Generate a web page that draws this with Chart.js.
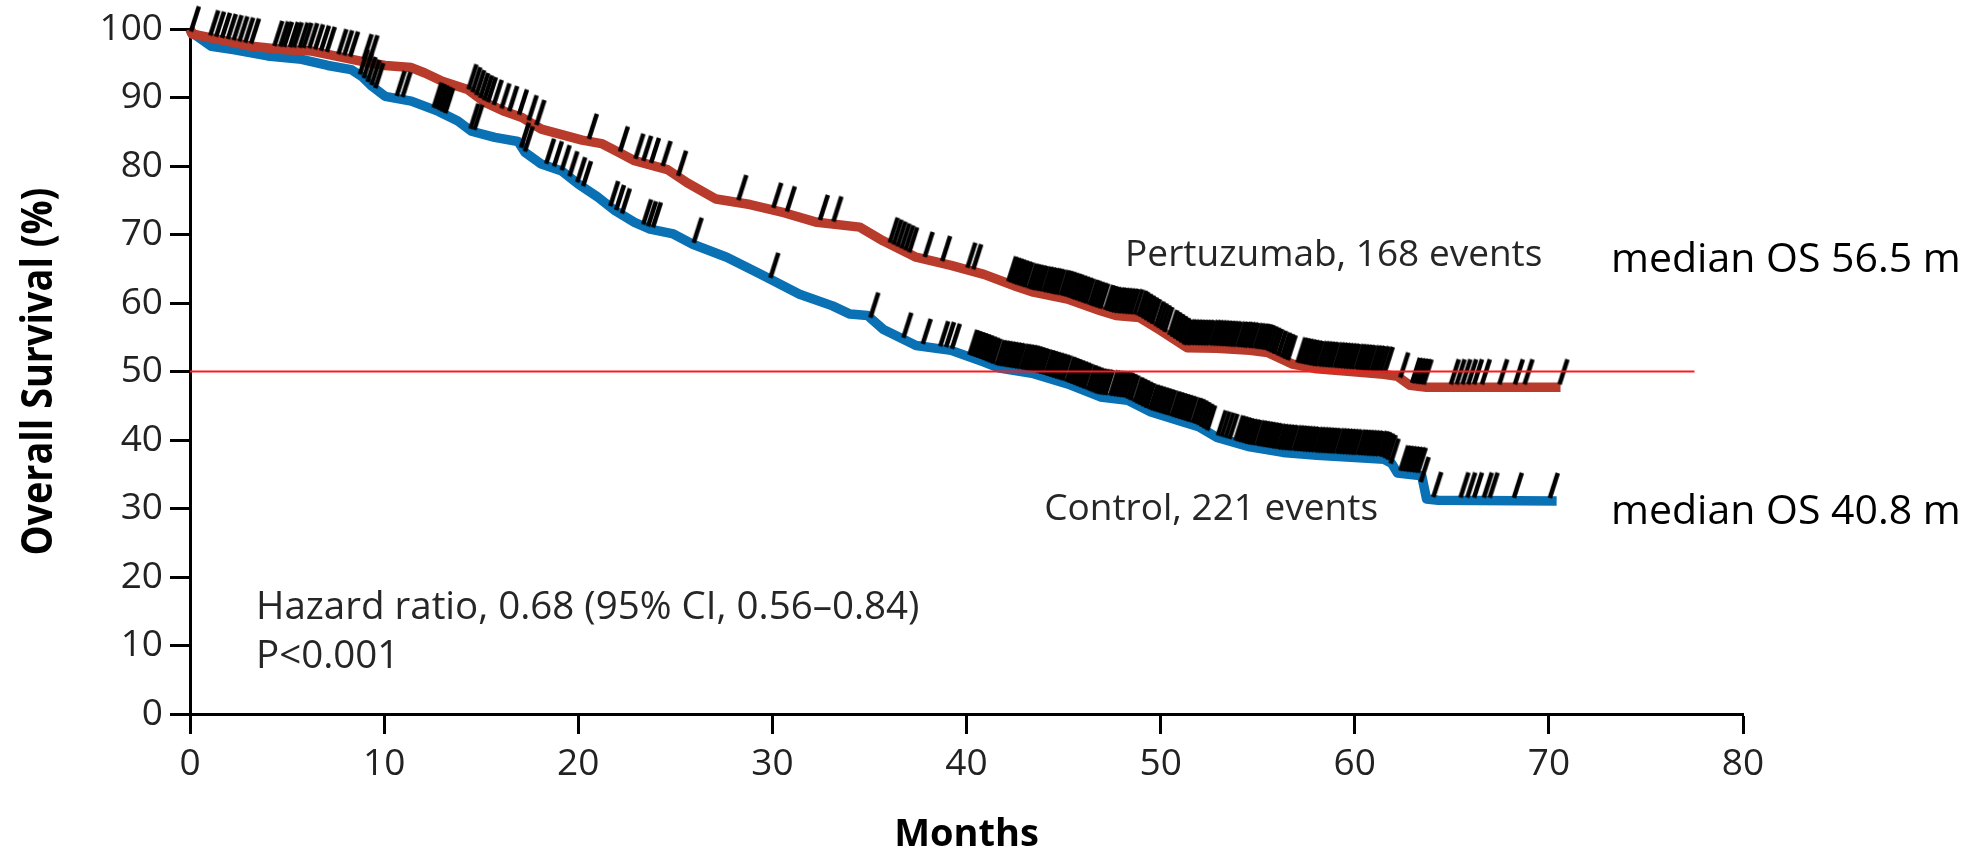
<!DOCTYPE html>
<html>
<head>
<meta charset="utf-8">
<script src="https://cdn.jsdelivr.net/npm/chart.js@4.4.1/dist/chart.umd.min.js"></script>
<style>
html,body{margin:0;padding:0;background:#ffffff;}
canvas{display:block;}
</style>
</head>
<body>
<canvas id="km" width="1985" height="857"></canvas>
<script>
// ---------------- data ----------------
const xTickValues = [0, 10, 20, 30, 40, 50, 60, 70, 80];
const yTickValues = [0, 10, 20, 30, 40, 50, 60, 70, 80, 90, 100];

const pertuzumabMonths = [0, 0.1, 1.46, 3.18, 4.9, 6.27, 7.47, 8.85, 10.05, 11.4, 12.1, 13.0, 14.3, 15.2, 16.2, 17.1, 18.1, 19.15, 20.2, 21.2, 22.1, 22.9, 24.6, 25.6, 27.1, 28.85, 30.6, 32.3, 34.5, 35.7, 37.4, 39.2, 40.9, 42.6, 43.45, 45.2, 46.9, 47.7, 48.9, 50.0, 51.35, 52.9, 54.6, 55.5, 56.8, 58.05, 59.8, 61.5, 62.2, 62.85, 63.7, 70.6];
const pertuzumabSurvival = [100, 99.3, 98.5, 97.5, 97.0, 96.8, 96.1, 95.3, 94.7, 94.4, 93.6, 92.4, 91.2, 89.3, 88.0, 87.1, 85.4, 84.6, 83.8, 83.3, 82.0, 80.8, 79.5, 77.6, 75.2, 74.4, 73.2, 71.8, 71.1, 69.1, 66.7, 65.5, 64.2, 62.4, 61.6, 60.6, 58.9, 58.2, 57.9, 56.0, 53.5, 53.4, 53.1, 52.8, 51.1, 50.4, 50.0, 49.6, 49.3, 48.0, 47.7, 47.7];

const controlMonths = [0, 0.1, 1.1, 2.3, 4.0, 5.75, 7.1, 8.3, 8.85, 9.36, 10.05, 11.4, 12.8, 13.8, 14.5, 15.7, 16.9, 17.26, 18.1, 19.15, 20.0, 21.0, 21.9, 22.9, 23.7, 24.9, 25.9, 27.65, 29.4, 31.4, 33.1, 34.0, 34.9, 35.7, 37.4, 39.2, 40.9, 41.7, 43.45, 45.2, 46.9, 48.3, 49.5, 51.2, 52.0, 52.9, 54.6, 56.3, 58.05, 59.8, 61.5, 61.9, 62.2, 63.45, 63.7, 64.3, 70.4];
const controlSurvival = [100, 99.5, 97.5, 97.0, 96.1, 95.6, 94.7, 94.1, 93.1, 91.7, 90.2, 89.5, 88.0, 86.6, 85.1, 84.2, 83.6, 82.0, 80.3, 79.3, 77.4, 75.5, 73.5, 71.8, 70.8, 70.1, 68.6, 66.7, 64.2, 61.3, 59.6, 58.4, 58.2, 56.2, 53.8, 53.1, 51.4, 50.5, 49.7, 48.2, 46.3, 45.8, 44.1, 42.6, 41.9, 40.4, 39.0, 38.2, 37.8, 37.5, 37.2, 36.6, 35.2, 34.8, 31.4, 31.2, 31.1];

const pertuzumabCensored = [0.2, 1.2, 1.5, 1.8, 2.1, 2.4, 2.7, 3.0, 3.3, 4.5, 4.8, 5.0, 5.3, 5.5, 5.8, 6.0, 6.3, 6.6, 6.9, 7.2, 7.8, 8.1, 8.4, 9.1, 9.4,
  14.5, 14.7, 14.9, 15.1, 15.3, 15.5, 15.8, 16.2, 16.6, 17.1, 17.6, 18.0, 20.7, 22.3, 23.1, 23.5, 23.9, 24.5, 25.3, 28.4, 30.2, 30.9, 32.6, 33.3,
  36.2, 36.4, 36.6, 36.8, 37.0, 37.2, 38.0, 38.9, 40.2, 40.5,
  42.3, 42.45, 42.6, 42.7, 42.85, 43.0, 43.15, 43.35, 43.5, 43.6, 43.75, 43.9, 44.1, 44.25, 44.4, 44.55, 44.65, 44.8, 45.0, 45.15, 45.3, 45.45, 45.6, 45.7, 45.85, 46.0, 46.15, 46.3, 46.5, 46.6, 46.75, 46.9, 47.05, 47.3, 47.45, 47.6, 47.75, 47.9, 48.0, 48.15, 48.3, 48.45, 48.6, 48.8, 49.0, 49.1, 49.25, 49.4, 49.55, 49.7, 49.9, 50.05, 50.2, 50.35, 50.6, 50.75, 50.9, 51.05, 51.2, 51.35, 51.5, 51.6, 51.75, 51.9, 52.05, 52.2, 52.35, 52.5, 52.7, 52.85, 53.0, 53.15, 53.3, 53.45, 53.6, 53.75, 53.9, 54.1, 54.25, 54.4, 54.5, 54.65, 54.8, 55.0, 55.15, 55.3, 55.4, 55.55, 55.7, 55.85, 56.0, 56.2, 56.4, 56.55, 56.7, 57.2, 57.35, 57.5, 57.65, 57.8, 57.95, 58.1, 58.3, 58.45, 58.6, 58.75, 58.9, 59.1, 59.25, 59.4, 59.55, 59.7, 59.85, 60.0, 60.2, 60.35, 60.5, 60.65, 60.8, 61.0, 61.15, 61.3, 61.5, 61.7,
  62.5, 63.1, 63.25, 63.4, 63.55, 63.7, 65.1, 65.4, 65.7, 66.0, 66.3, 66.7, 67.6, 68.4, 68.9, 70.7];

const controlCensored = [8.9, 9.1, 9.3, 9.5, 9.7, 10.8, 11.1, 12.7, 12.85, 13.0, 13.15, 13.3, 14.6, 14.8, 17.2, 17.4, 18.5, 18.9, 19.3, 19.7, 20.1, 20.4, 21.8, 22.1, 22.4, 23.5, 23.75, 24.0, 26.1, 30.05, 35.2, 36.9, 37.9, 38.8, 39.1, 39.4,
  40.3, 40.45, 40.6, 40.75, 40.9, 41.05, 41.2, 41.35, 41.5, 41.7, 41.85, 42.0, 42.15, 42.3, 42.45, 42.6, 42.75, 42.95, 43.1, 43.25, 43.4, 43.55, 43.7, 43.85, 44.0, 44.2, 44.35, 44.5, 44.65, 44.8, 44.95, 45.1, 45.3, 45.45, 45.6, 45.75, 45.9, 46.05, 46.2, 46.4, 46.55, 46.7, 46.85, 47.0, 47.15, 47.3, 47.55, 47.7, 47.85, 48.0, 48.15, 48.3, 48.45, 48.6, 48.8, 48.95, 49.1, 49.25, 49.4, 49.6, 49.75, 49.9, 50.05, 50.2, 50.35, 50.5, 50.7, 50.85, 51.0, 51.15, 51.3, 51.45, 51.6, 51.8, 51.95, 52.1, 52.25, 52.4, 52.55,
  53.1, 53.3, 53.5, 53.7, 54.0, 54.15, 54.3, 54.45, 54.6, 54.75, 54.9, 55.1, 55.25, 55.4, 55.55, 55.7, 55.85, 56.0, 56.2, 56.35, 56.5, 56.65, 56.8, 57.0, 57.15, 57.3, 57.45, 57.6, 57.75, 57.9, 58.1, 58.25, 58.4, 58.55, 58.7, 58.85, 59.0, 59.2, 59.35, 59.5, 59.65, 59.8, 59.95, 60.1, 60.3, 60.45, 60.6, 60.75, 60.9, 61.05, 61.2, 61.4, 61.55, 61.7, 61.85, 62.0,
  62.5, 62.65, 62.8, 62.95, 63.1, 63.25, 63.4, 63.55, 64.2, 65.6, 65.95, 66.3, 66.8, 67.1, 68.35, 70.2];

const referenceLineMonths = [0, 77.5];
const referenceLineSurvival = [50, 50];

// text annotations (anchored in data units: month, survival %; left edge / baseline)
const noteTexts = ['Pertuzumab, 168 events', 'Control, 221 events', 'Hazard ratio, 0.68 (95% CI, 0.56\u20130.84)', 'P<0.001'];
const noteMonths = [48.17, 44.0, 3.4, 3.4];
const noteSurvival = [65.45, 28.3, 13.8, 6.7];
const noteSizes = [37, 37, 38.5, 38.5];

const medianTexts = ['median OS 56.5 m', 'median OS 40.8 m'];
const medianMonths = [73.2, 73.2];
const medianSurvival = [64.6, 27.8];

const yAxisTitle = 'Overall Survival (%)';
const xAxisTitle = 'Months';

// ---------------- helpers ----------------
function toPoints(xs, ys) { return xs.map((v, i) => ({x: v, y: ys[i]})); }
function curveValueAt(xs, ys, t) {
  if (t <= xs[0]) return ys[0];
  for (let i = 1; i < xs.length; i++) {
    if (t <= xs[i]) {
      const f = (t - xs[i - 1]) / (xs[i] - xs[i - 1]);
      return ys[i - 1] + f * (ys[i] - ys[i - 1]);
    }
  }
  return ys[ys.length - 1];
}
function censorPoints(times, xs, ys) { return times.map(t => ({x: t, y: curveValueAt(xs, ys, t)})); }

// censor tick glyph: slanted black stroke sitting above the point
const tickGlyph = document.createElement('canvas');
tickGlyph.width = 28; tickGlyph.height = 72;
(function(){
  const g = tickGlyph.getContext('2d');
  g.strokeStyle = '#000'; g.lineWidth = 4.5; g.lineCap = 'butt';
  g.beginPath(); g.moveTo(14 - 3, 36 - 3); g.lineTo(14 + 5, 36 - 28); g.stroke();
})();

const RED = '#b83b2b';
const BLUE = '#0a71b5';
const TICK_FONT = {family: '"Open Sans", "Noto Sans", sans-serif', size: 37};

const textPlugin = {
  id: 'textNotes',
  afterDraw(chart) {
    const ctx = chart.ctx;
    const xs = chart.scales.x, ys = chart.scales.y, ca = chart.chartArea;
    ctx.save();
    ctx.textAlign = 'left';
    ctx.textBaseline = 'alphabetic';
    ctx.fillStyle = '#262626';
    noteTexts.forEach((t, i) => {
      ctx.font = noteSizes[i] + 'px "Open Sans", "Noto Sans", sans-serif';
      ctx.fillText(t, xs.getPixelForValue(noteMonths[i]), ys.getPixelForValue(noteSurvival[i]));
    });
    ctx.fillStyle = '#000';
    ctx.font = '41px "Open Sans", "Noto Sans", sans-serif';
    medianTexts.forEach((t, i) => {
      ctx.fillText(t, xs.getPixelForValue(medianMonths[i]), ys.getPixelForValue(medianSurvival[i]), 356);
    });
    // axis titles
    ctx.font = 'bold 38px "Open Sans", "Noto Sans", sans-serif';
    ctx.textAlign = 'center';
    ctx.fillText(xAxisTitle, (ca.left + ca.right) / 2, 846);
    ctx.translate(52, (ca.top + ca.bottom) / 2);
    ctx.rotate(-Math.PI / 2);
    ctx.font = 'bold 43px "Open Sans", "Noto Sans", sans-serif';
    ctx.fillText(yAxisTitle, 0, 0, 368);
    ctx.restore();
  }
};

new Chart(document.getElementById('km'), {
  type: 'scatter',
  data: {
    datasets: [
      {
        label: '50% line',
        data: toPoints(referenceLineMonths, referenceLineSurvival),
        showLine: true, borderColor: '#ff1a1a', borderWidth: 2,
        pointRadius: 0, order: 0, clip: false
      },
      {
        label: 'Pertuzumab censored',
        data: censorPoints(pertuzumabCensored, pertuzumabMonths, pertuzumabSurvival),
        showLine: false, pointStyle: tickGlyph, pointRadius: 3, order: 1, clip: false
      },
      {
        label: 'Control censored',
        data: censorPoints(controlCensored, controlMonths, controlSurvival),
        showLine: false, pointStyle: tickGlyph, pointRadius: 3, order: 1, clip: false
      },
      {
        label: 'Pertuzumab',
        data: toPoints(pertuzumabMonths, pertuzumabSurvival),
        showLine: true, borderColor: RED, backgroundColor: RED, borderWidth: 9.5,
        borderJoinStyle: 'round', pointRadius: 0, tension: 0, order: 2, clip: false
      },
      {
        label: 'Control',
        data: toPoints(controlMonths, controlSurvival),
        showLine: true, borderColor: BLUE, backgroundColor: BLUE, borderWidth: 9.5,
        borderJoinStyle: 'round', pointRadius: 0, tension: 0, order: 3, clip: false
      }
    ]
  },
  options: {
    responsive: false,
    animation: false,
    devicePixelRatio: 1,
    events: [],
    layout: {padding: {left: 0, right: 242, top: 28, bottom: 0}},
    plugins: {legend: {display: false}, tooltip: {enabled: false}},
    scales: {
      x: {
        type: 'linear', min: 0, max: 80,
        afterBuildTicks: s => { s.ticks = xTickValues.map(v => ({value: v})); },
        afterFit: s => { s.height = 143; },
        ticks: {font: TICK_FONT, color: '#222', padding: 8, maxRotation: 0},
        grid: {display: true, drawOnChartArea: false, drawTicks: true, tickLength: 20, tickWidth: 3, tickColor: '#000'},
        border: {display: true, color: '#000', width: 3}
      },
      y: {
        type: 'linear', min: 0, max: 100,
        afterBuildTicks: s => { s.ticks = yTickValues.map(v => ({value: v})); },
        afterFit: s => { s.width = 190; },
        ticks: {font: TICK_FONT, color: '#222', padding: 7},
        grid: {display: true, drawOnChartArea: false, drawTicks: true, tickLength: 20, tickWidth: 3, tickColor: '#000'},
        border: {display: true, color: '#000', width: 3}
      }
    }
  },
  plugins: [textPlugin]
});
</script>
</body>
</html>
